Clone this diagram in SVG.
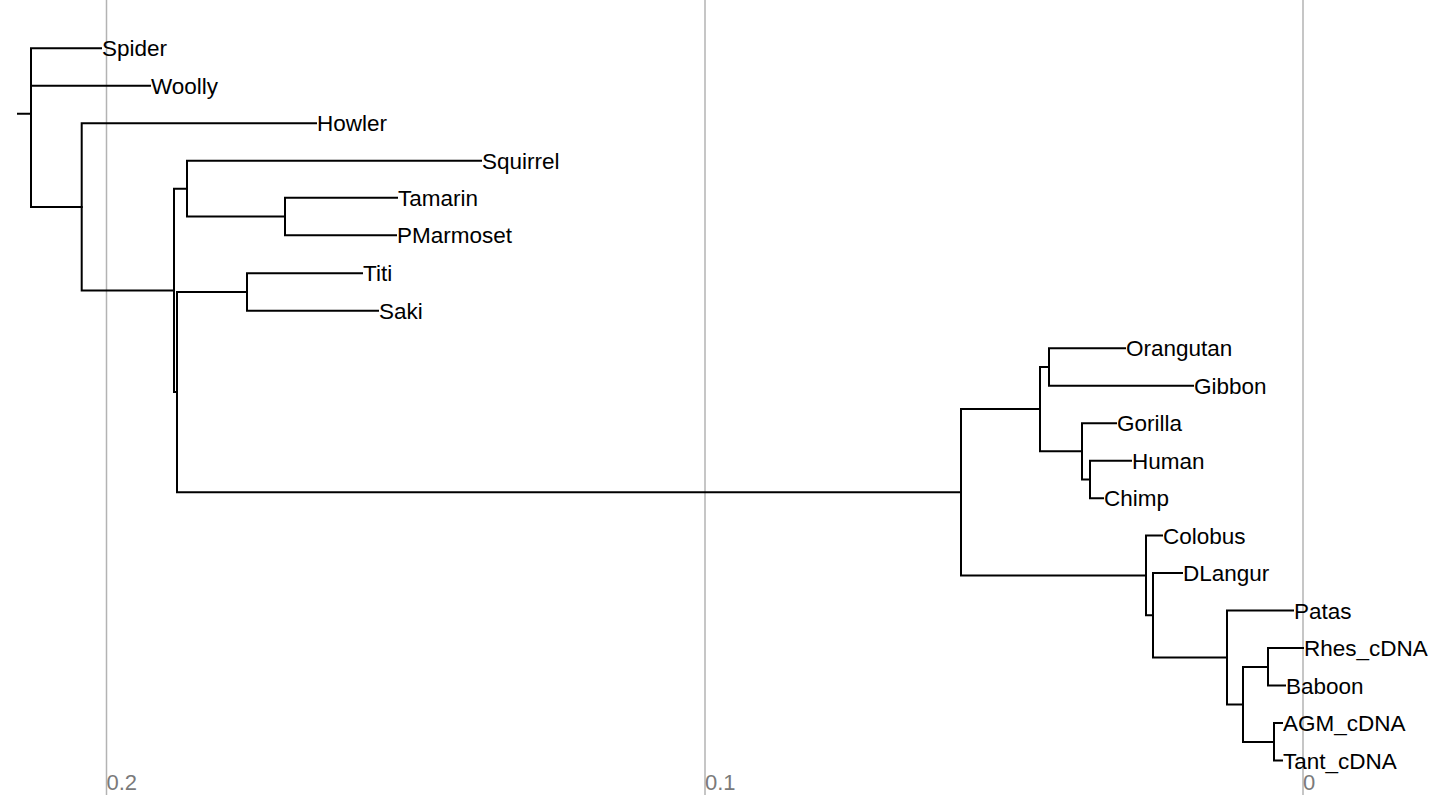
<svg xmlns="http://www.w3.org/2000/svg" width="1435" height="795" viewBox="0 0 1435 795">
<style>
.grid{stroke:#b3b3b3;stroke-width:1.5;fill:none}
.tick{font-family:"Liberation Sans",Arial,sans-serif;font-size:22px;fill:#7a7a7a}
.edge{stroke:#000;stroke-width:2;fill:none;stroke-linecap:square}
.lbl{font-family:"Liberation Sans",Arial,sans-serif;font-size:22.5px;fill:#000}
</style>
<rect width="1435" height="795" fill="#fff"/>
<g id="axis">
<line class="grid" x1="106.5" y1="0" x2="106.5" y2="795"/>
<line class="grid" x1="705" y1="0" x2="705" y2="795"/>
<line class="grid" x1="1303" y1="0" x2="1303" y2="795"/>
<text class="tick" x="106.5" y="790">0.2</text>
<text class="tick" x="705" y="790">0.1</text>
<text class="tick" x="1303" y="790">0</text>
</g>
<g id="connectors">
<!-- root -->
<path class="edge" d="M18,113.7H31M31,48.3V206.9M31,48.3H101M31,85.8H150M31,206.9H81.7"/>
<!-- A -->
<path class="edge" d="M81.7,123.3V290.4M81.7,123.3H316M81.7,290.4H174"/>
<!-- B -->
<path class="edge" d="M174,188.7V392.1M174,188.7H187M174,392.1H177"/>
<!-- C -->
<path class="edge" d="M187,160.8V216.6M187,160.8H481M187,216.6H285"/>
<path class="edge" d="M285,197.8V235.3M285,197.8H397M285,235.3H396"/>
<!-- F -->
<path class="edge" d="M177,292V492.3M177,292H247M177,492.3H961"/>
<path class="edge" d="M247,273.2V310.7M247,273.2H362M247,310.7H378"/>
<!-- G -->
<path class="edge" d="M961,409.1V575.5M961,409.1H1040M961,575.5H1146"/>
<!-- H -->
<path class="edge" d="M1040,367V451.3M1040,367H1049M1040,451.3H1082"/>
<path class="edge" d="M1049,348.2V385.7M1049,348.2H1125M1049,385.7H1193"/>
<path class="edge" d="M1082,423.2V479.4M1082,423.2H1116M1082,479.4H1090"/>
<path class="edge" d="M1090,460.7V498.2M1090,460.7H1131M1090,498.2H1103"/>
<!-- I -->
<path class="edge" d="M1146,535.6V615.3M1146,535.6H1162M1146,615.3H1153"/>
<path class="edge" d="M1153,573.1V657.5M1153,573.1H1182M1153,657.5H1227"/>
<path class="edge" d="M1227,610.6V704.4M1227,610.6H1293M1227,704.4H1243"/>
<path class="edge" d="M1243,666.9V741.9M1243,666.9H1268M1243,741.9H1274"/>
<path class="edge" d="M1268,648.1V685.6M1268,648.1H1303M1268,685.6H1285"/>
<path class="edge" d="M1274,723.1V760.6M1274,723.1H1282M1274,760.6H1282"/>
</g>
<g id="n-spider"><text class="lbl" x="102" y="56.3">Spider</text></g>
<g id="n-woolly"><text class="lbl" x="151" y="93.8">Woolly</text></g>
<g id="n-howler"><text class="lbl" x="317" y="131.3">Howler</text></g>
<g id="n-squirrel"><text class="lbl" x="482" y="168.8">Squirrel</text></g>
<g id="n-tamarin"><text class="lbl" x="398" y="205.8">Tamarin</text></g>
<g id="n-pmarmoset"><text class="lbl" x="397" y="243.3">PMarmoset</text></g>
<g id="n-titi"><text class="lbl" x="363" y="281.2">Titi</text></g>
<g id="n-saki"><text class="lbl" x="379" y="318.7">Saki</text></g>
<g id="n-orangutan"><text class="lbl" x="1126" y="356.2">Orangutan</text></g>
<g id="n-gibbon"><text class="lbl" x="1194" y="393.7">Gibbon</text></g>
<g id="n-gorilla"><text class="lbl" x="1117" y="431.2">Gorilla</text></g>
<g id="n-human"><text class="lbl" x="1132" y="468.7">Human</text></g>
<g id="n-chimp"><text class="lbl" x="1104" y="506.2">Chimp</text></g>
<g id="n-colobus"><text class="lbl" x="1163" y="543.6">Colobus</text></g>
<g id="n-dlangur"><text class="lbl" x="1183" y="581.1">DLangur</text></g>
<g id="n-patas"><text class="lbl" x="1294" y="618.6">Patas</text></g>
<g id="n-rhes"><text class="lbl" x="1304" y="656.1">Rhes_cDNA</text></g>
<g id="n-baboon"><text class="lbl" x="1286" y="693.6">Baboon</text></g>
<g id="n-agm"><text class="lbl" x="1283" y="731.1">AGM_cDNA</text></g>
<g id="n-tant"><text class="lbl" x="1283" y="768.6">Tant_cDNA</text></g>
</svg>
